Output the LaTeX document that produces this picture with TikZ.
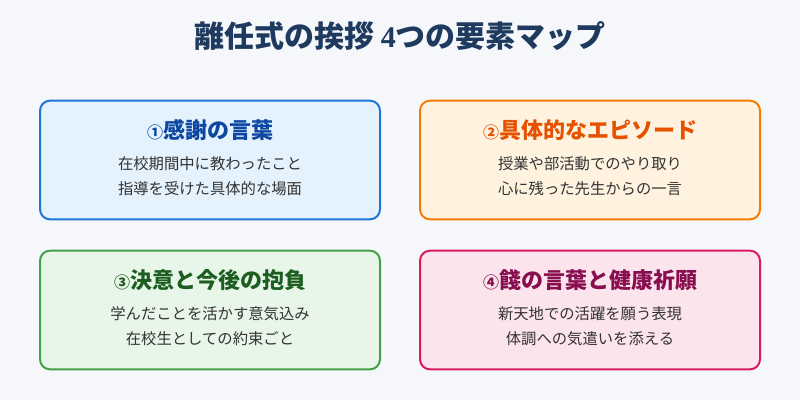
\documentclass[tikz,border=0pt]{standalone}
\usepackage{fontspec}
\setmainfont{Noto Sans CJK JP}
\newfontfamily\digitserif{Liberation Serif}
\definecolor{bgc}{HTML}{F5F7FB}
\definecolor{titlec}{HTML}{1F3A5F}
\definecolor{bodyc}{HTML}{333333}
\definecolor{blueb}{HTML}{1E78D2}
\definecolor{bluef}{HTML}{E3F2FD}
\definecolor{bluet}{HTML}{0D47A1}
\definecolor{orangeb}{HTML}{F57C00}
\definecolor{orangef}{HTML}{FFF3E0}
\definecolor{oranget}{HTML}{E65100}
\definecolor{greenb}{HTML}{43A047}
\definecolor{greenf}{HTML}{E8F5E9}
\definecolor{greent}{HTML}{1B5E20}
\definecolor{pinkb}{HTML}{D81B60}
\definecolor{pinkf}{HTML}{FCE4EC}
\definecolor{pinkt}{HTML}{880E4F}
\newcommand{\circnum}[1]{{\fontsize{12pt}{14pt}\selectfont #1}}
\tikzset{
  card/.style={draw, line width=1.5pt, rounded corners=7.5pt, minimum width=255pt, minimum height=89pt, inner sep=0pt},
  head/.style={font=\fontsize{16.5pt}{19pt}\selectfont\bfseries},
  bodytext/.style={text=bodyc, align=center, font=\fontsize{11.5pt}{18.75pt}\selectfont},
}
\begin{document}
\begin{tikzpicture}[x=0.75pt,y=-0.75pt]
\fill[bgc] (0,0) rectangle (800,400);
\useasboundingbox (0,0) rectangle (800,400);
\node[text=titlec, font=\fontsize{22.5pt}{26pt}\selectfont\bfseries] (title) at (400,36) {離任式の挨拶 {\digitserif\bfseries 4}つの要素マップ};

\node[card, draw=blueb, fill=bluef] (c1) at (210,160) {};
\node[head, text=bluet] (h1) at (210,130) {\circnum{①}感謝の言葉};
\node[bodytext] (b1) at (210,176) {在校期間中に教わったこと\\指導を受けた具体的な場面};

\node[card, draw=orangeb, fill=orangef] (c2) at (590,160) {};
\node[head, text=oranget] (h2) at (590,130) {\circnum{②}具体的なエピソード};
\node[bodytext] (b2) at (590,176) {授業や部活動でのやり取り\\心に残った先生からの一言};

\node[card, draw=greenb, fill=greenf] (c3) at (210,310) {};
\node[head, text=greent] (h3) at (210,280) {\circnum{③}決意と今後の抱負};
\node[bodytext] (b3) at (210,326) {学んだことを活かす意気込み\\在校生としての約束ごと};

\node[card, draw=pinkb, fill=pinkf] (c4) at (590,310) {};
\node[head, text=pinkt] (h4) at (590,280) {\circnum{④}餞の言葉と健康祈願};
\node[bodytext] (b4) at (590,326) {新天地での活躍を願う表現\\体調への気遣いを添える};
\end{tikzpicture}
\end{document}
